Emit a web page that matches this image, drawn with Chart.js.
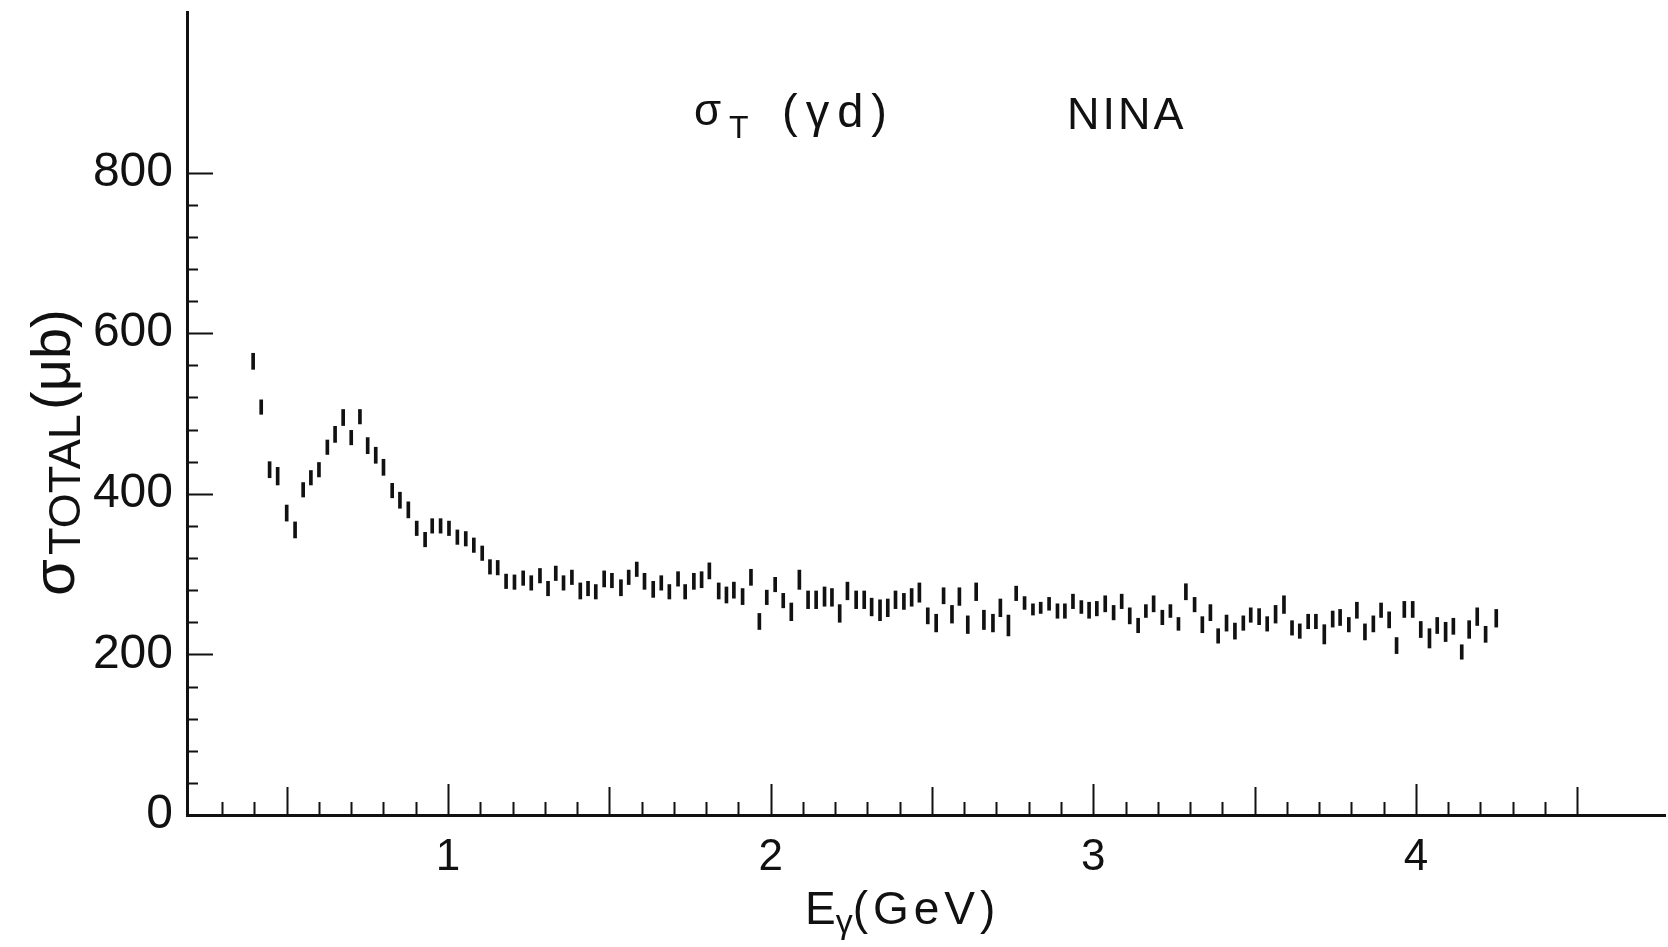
<!DOCTYPE html>
<html>
<head>
<meta charset="utf-8">
<script src="https://cdn.jsdelivr.net/npm/chart.js@4.4.1/dist/chart.umd.min.js"></script>
<style>
  html, body { margin: 0; padding: 0; background: #fff; }
  #wrap { width: 1668px; height: 947px; }
</style>
</head>
<body>
<div id="wrap"><canvas id="canvas" width="1668" height="947"></canvas></div>
<script>
// photon energy (GeV)
var energy = [
    0.396, 0.421, 0.447, 0.472, 0.500, 0.526, 0.551, 0.575, 0.600, 0.626,
    0.650, 0.675, 0.700, 0.727, 0.751, 0.776, 0.800, 0.827, 0.851, 0.877,
    0.903, 0.929, 0.951, 0.977, 1.003, 1.029, 1.055, 1.080, 1.106, 1.130,
    1.154, 1.180, 1.206, 1.233, 1.258, 1.285, 1.310, 1.334, 1.358, 1.384,
    1.410, 1.434, 1.458,
    1.484, 1.508, 1.536, 1.560, 1.585, 1.609, 1.636, 1.661, 1.686, 1.713,
    1.735, 1.762, 1.786, 1.810, 1.839, 1.863, 1.886, 1.913, 1.939, 1.965,
    1.988, 2.014, 2.039, 2.064, 2.089, 2.116, 2.141, 2.167, 2.190, 2.214,
    2.238, 2.265, 2.290, 2.313, 2.339, 2.363, 2.387, 2.413, 2.437, 2.461,
    2.487, 2.513, 2.536, 2.562, 2.585, 2.611, 2.637, 2.661, 2.689,
    2.712, 2.737, 2.761, 2.787, 2.813, 2.837, 2.863, 2.889, 2.912, 2.937,
    2.963, 2.987, 3.011, 3.037, 3.063, 3.088, 3.113, 3.139, 3.163, 3.187,
    3.214, 3.239, 3.264, 3.287, 3.314, 3.338, 3.363, 3.387, 3.413, 3.439,
    3.465, 3.488, 3.514, 3.539, 3.565, 3.591, 3.616, 3.640, 3.666, 3.690,
    3.716, 3.742, 3.765, 3.792, 3.817, 3.842, 3.868, 3.892, 3.917, 3.940,
    3.964, 3.990, 4.015, 4.042, 4.066, 4.092, 4.116, 4.142, 4.165, 4.190,
    4.216, 4.249
];

// total cross section (microbarn)
var sigma = [
    565, 508, 430, 422, 376, 355, 405, 420, 430, 458,
    474, 495, 470, 496, 460, 448, 433, 404, 392, 380,
    357, 343, 360, 360, 357, 346, 344, 336, 326, 309,
    308, 291, 290, 295, 289, 298, 282, 301, 289, 296,
    279, 282, 278,
    294, 292, 283, 296, 306, 291, 281, 289, 278, 294,
    278, 291, 293, 304, 279, 274, 280, 272, 296, 241,
    271, 287, 267, 253, 293, 268, 268, 272, 271, 251,
    279, 268, 268, 259, 255, 258, 268, 266, 271, 277,
    248, 239, 273, 250, 272, 237, 278, 243, 239,
    258, 236, 276, 264, 256, 258, 263, 254, 254, 266,
    259, 255, 257, 263, 252, 266, 248, 236, 254, 263,
    246, 254, 238, 278, 262, 237, 252, 223, 239, 229,
    239, 249, 247, 238, 250, 262, 233, 229, 241, 241,
    225, 244, 246, 237, 255, 228, 238, 255, 243, 211,
    256, 256, 231, 220, 236, 228, 235, 203, 231, 247,
    225, 245
];

// half length of each error bar (microbarn)
var sigmaErr = [
    10, 9, 10, 11, 10, 10, 9, 9, 9, 9,
    10, 10, 9, 9, 10, 10, 10, 9, 10, 10,
    9, 9, 9, 9, 9, 9, 9, 9, 9, 9,
    9, 9, 9, 9, 9, 9, 9, 9, 9, 9,
    10, 9, 9,
    10, 9, 10, 9, 9, 10, 10, 9, 9, 9,
    9, 10, 10, 10, 10, 10, 10, 10, 10, 10,
    9, 9, 9, 11, 12, 11, 11, 12, 11, 11,
    11, 11, 11, 11, 13, 11, 11, 10, 11, 12,
    10, 11, 10, 11, 11, 11, 11, 12, 11,
    11, 13, 9, 8, 7, 7, 8, 9, 9, 9,
    8, 10, 9, 10, 9, 9, 10, 9, 8, 10,
    9, 8, 8, 10, 9, 10, 10, 9, 10, 10,
    9, 9, 10, 9, 11, 11, 9, 9, 9, 9,
    12, 10, 10, 9, 10, 10, 10, 9, 10, 10,
    10, 10, 10, 12, 10, 12, 10, 9, 11, 11,
    10, 11
];

var xTickLabels = [1, 2, 3, 4];
var yTickLabels = [0, 200, 400, 600, 800];

var ink = '#111';

function drawRun(ctx, parts, x, y) {
    // draws pieces of text one after another on a shared baseline
    parts.forEach(function(p) {
        ctx.font = p.font;
        ctx.letterSpacing = (p.spacing || 0) + 'px';
        ctx.fillText(p.text, x, y + (p.dy || 0));
        x += ctx.measureText(p.text).width;
    });
    ctx.letterSpacing = '0px';
}

const axisDecor = {
    id: 'axisDecor',
    afterDatasetsDraw(chart) {
        const {ctx, chartArea, scales: {x, y}} = chart;
        ctx.save();
        ctx.strokeStyle = ink;
        ctx.lineWidth = 2;
        ctx.beginPath();
        // inward ticks on the y axis, every 40 up to 800
        for (let i = 1; i <= 20; i++) {
            const v = i * 40;
            const py = Math.round(y.getPixelForValue(v)) + 0.5;
            const len = v % 200 === 0 ? 26 : 11;
            ctx.moveTo(chartArea.left, py);
            ctx.lineTo(chartArea.left + len, py);
        }
        // inward ticks on the x axis, every 0.1 GeV
        for (let i = 3; i <= 45; i++) {
            const px = Math.round(x.getPixelForValue(i / 10)) + 0.5;
            const len = i % 10 === 0 ? 31 : (i % 5 === 0 ? 28 : 13);
            ctx.moveTo(px, chartArea.bottom);
            ctx.lineTo(px, chartArea.bottom - len);
        }
        ctx.stroke();

        ctx.fillStyle = ink;
        ctx.textBaseline = 'alphabetic';
        ctx.textAlign = 'left';
        const f = "'Liberation Sans', Arial, sans-serif";

        // plot title
        drawRun(ctx, [{text: 'σ', font: '44px ' + f}], 694, 125);
        drawRun(ctx, [{text: 'T', font: '32px ' + f}], 729, 138);
        drawRun(ctx, [{text: '(γd)', font: '47px ' + f, spacing: 8}], 782, 127);
        drawRun(ctx, [{text: 'NINA', font: '45px ' + f, spacing: 3}], 1067, 129);

        // x axis title
        drawRun(ctx, [
            {text: 'E', font: '46px ' + f},
            {text: 'γ', font: '34px ' + f, dy: 9},
            {text: '(GeV)', font: '46px ' + f, spacing: 5}
        ], 805, 924);

        // y axis title, rotated
        ctx.rotate(-Math.PI / 2);
        drawRun(ctx, [{text: 'σ', font: '60px ' + f}], -596, 74);
        drawRun(ctx, [{text: 'TOTAL', font: '45px ' + f}], -555, 80);
        drawRun(ctx, [{text: '(μb)', font: '56px ' + f}], -410, 70);
        ctx.restore();
    }
};

function renderChart() {
    const points = energy.map((e, i) => ({x: e, y: [sigma[i] - sigmaErr[i], sigma[i] + sigmaErr[i]]}));

    var ctx = document.getElementById('canvas').getContext('2d');
    new Chart(ctx, {
        type: 'bar',
        data: {
            datasets: [{
                label: 'sigma total (gamma d)',
                data: points,
                backgroundColor: ink,
                borderWidth: 0,
                barThickness: 3
            }]
        },
        plugins: [axisDecor],
        options: {
            responsive: false,
            animation: false,
            layout: {padding: {top: 12, right: 3, left: 0, bottom: 0}},
            plugins: {legend: {display: false}, tooltip: {enabled: false}},
            scales: {
                x: {
                    type: 'linear',
                    offset: false,
                    min: 0.191,
                    max: 4.772,
                    afterFit: function(scale) {
                        scale.height = 132;
                        scale.paddingLeft = 0;
                        scale.paddingRight = 0;
                    },
                    afterBuildTicks: function(scale) {
                        scale.ticks = xTickLabels.map(v => ({value: v}));
                    },
                    grid: {display: false, drawTicks: false, offset: false},
                    border: {display: true, color: ink, width: 3},
                    ticks: {
                        color: ink,
                        padding: 16,
                        maxRotation: 0,
                        font: {family: "'Liberation Sans', Arial, sans-serif", size: 44}
                    }
                },
                y: {
                    type: 'linear',
                    min: 0,
                    max: 1000,
                    afterFit: function(scale) {
                        scale.width = 187;
                        scale.paddingTop = 0;
                        scale.paddingBottom = 0;
                    },
                    afterBuildTicks: function(scale) {
                        scale.ticks = yTickLabels.map(v => ({value: v}));
                    },
                    grid: {display: false, drawTicks: false},
                    border: {display: true, color: ink, width: 3},
                    ticks: {
                        color: ink,
                        padding: 14,
                        font: {family: "'Liberation Sans', Arial, sans-serif", size: 48}
                    }
                }
            }
        }
    });
}

renderChart();
</script>
</body>
</html>
